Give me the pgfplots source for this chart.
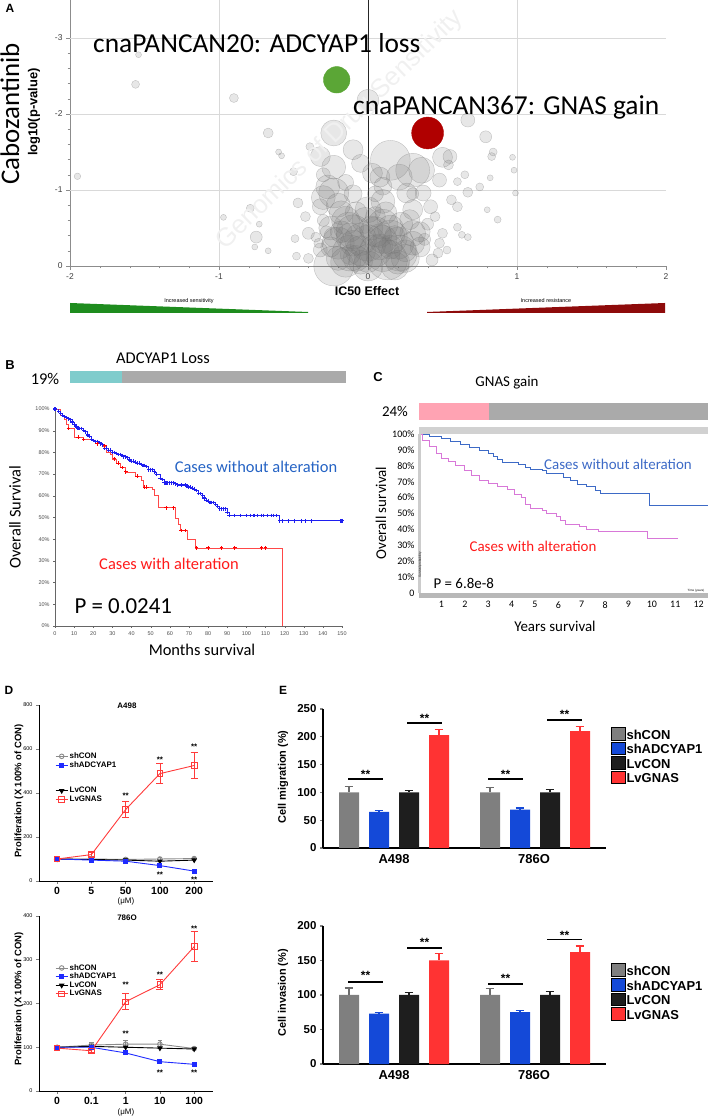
\documentclass[border=0pt]{standalone}
\usepackage{pgfplots}
\pgfplotsset{compat=1.18}
\usepackage{fontspec}
\setmainfont{Liberation Sans}
\newfontfamily\carl{Carlito}
\newcommand\fsz[1]{\fontsize{#1}{#1}\selectfont}

\definecolor{agreen}{HTML}{5BA636}
\definecolor{ared}{HTML}{B00000}
\definecolor{wgreen}{HTML}{1E8C1E}
\definecolor{wred}{HTML}{8E0B0B}
\definecolor{bteal}{HTML}{7FCCCC}
\definecolor{lgray}{HTML}{AAAAAA}
\definecolor{cpink}{HTML}{FFA3B3}
\definecolor{bblue}{HTML}{1E1EF0}
\definecolor{bred}{HTML}{FF4848}
\definecolor{tblue}{HTML}{2563C4}
\definecolor{tred}{HTML}{FF1A1A}
\definecolor{cblue}{HTML}{3D6AC6}
\definecolor{cpurp}{HTML}{D878D8}
\definecolor{dgray}{HTML}{8A8A8A}
\definecolor{dblue}{HTML}{1F2BFF}
\definecolor{dred}{HTML}{FF3B3B}
\definecolor{egray}{HTML}{7F7F7F}
\definecolor{eblue}{HTML}{1449D8}
\definecolor{eblack}{HTML}{1E1E1E}
\definecolor{ered}{HTML}{FF3333}

\pgfplotsset{every axis/.append style={scale only axis, anchor=south west,
  /pgf/number format/assume math mode=true}}
\tikzset{dstar/.style={font=\bfseries\fsz{8}, anchor=base, yshift=-4.6bp, inner sep=0pt},
  estar/.style={font=\bfseries\fsz{12}, anchor=base, yshift=-7bp, inner sep=0pt}}

\begin{document}
\begin{tikzpicture}
\path[use as bounding box] (0,0) rectangle (709bp,1116bp);

% ---------------- A: bubble plot
\begin{axis}[at={(70bp,850bp)}, width=596bp, height=266bp,
  xmin=-2, xmax=2, ymin=0, ymax=3.5,
  axis x line*=bottom, axis y line*=left,
  axis line style={black!45,-},
  xtick={-2,-1,0,1,2}, ytick={0,1,2,3}, yticklabels={0,-1,-2,-3},
  minor x tick num=4, minor y tick num=4,
  tick align=outside, tick style={black!45},
  major tick length=4bp, minor tick length=2.5bp,
  tick label style={font=\fsz{8.5}, text=black!75},
  clip=false]
\draw[black!15, line width=0.7bp] (axis cs:-2,1) -- (axis cs:2,1)
  (axis cs:-2,2) -- (axis cs:2,2) (axis cs:-2,3) -- (axis cs:2,3)
  (axis cs:-1,0) -- (axis cs:-1,3.5) (axis cs:1,0) -- (axis cs:1,3.5);
\addplot[scatter, only marks, mark=*,
  scatter/use mapped color={draw=black!55, fill=black!55, fill opacity=0.17, draw opacity=0.4},
  visualization depends on={\thisrow{r} \as \rr},
  scatter/@pre marker code/.append style={/tikz/mark size=\rr}]
  table {
x y r
-1.95 1.18 3.3
-1.54 2.78 3
-1.56 2.39 4
-0.90 2.21 4.5
-0.67 1.75 5
-0.60 1.50 3
-0.58 1.45 3
-0.97 0.64 3
-0.79 0.76 4
-0.75 0.38 6
-0.73 0.55 3
-0.76 0.25 3
-0.67 0.20 3
-0.49 0.36 4
-0.48 0.13 4
-0.40 0.43 6
-0.40 0.10 5
-0.47 0.83 5
-0.42 0.65 5
-0.50 1.24 4
-0.39 1.57 4
-0.23 1.75 13
-0.32 1.44 10
-0.27 1.04 12
-0.23 1.30 12
-0.23 0.96 15
-0.32 0.78 8
-0.13 0.51 15
0.00 0.74 13
-0.23 0.38 10
-0.12 0.17 18
-0.23 0.00 20
-0.32 0.21 7
-0.35 0.38 5
0.00 2.18 11
0.03 1.22 10
-0.10 1.53 10
0.15 1.39 20
0.30 1.26 17
0.36 1.26 13
0.50 1.43 10
0.55 1.44 7
0.54 1.33 5
0.67 1.92 7
0.79 1.70 6
0.84 1.50 4
0.83 1.44 4
0.97 1.43 3
0.98 1.26 3
0.99 0.96 3
0.82 1.16 3
0.75 1.04 4
0.65 1.20 4
0.60 1.11 4
0.67 0.97 5
0.56 0.87 5
0.60 0.78 5
0.80 0.74 3
0.87 0.61 3.5
0.67 0.38 3.5
0.63 0.41 3.5
0.60 0.51 4
0.50 0.43 5
0.48 0.30 5
0.53 0.21 4
0.47 0.17 5
0.43 0.08 6
0.26 0.96 10
0.37 0.96 8
0.42 0.78 7
0.30 0.74 10
0.21 1.17 13
0.48 1.13 7
0.08 1.17 10
0.15 0.38 17
0.21 0.17 18
0.13 0.08 20
0.30 0.43 13
0.35 0.25 10
0.28 0.61 10
-0.05 0.35 16
0.05 0.20 16
-0.15 0.60 14
0.10 0.55 15
0.00 0.10 14
-0.20 0.10 12
0.08 0.40 12
-0.10 0.30 13
0.02 0.50 12
-0.05 0.05 12
0.15 0.25 12
-0.25 0.25 10
0.20 0.05 12
-0.18 0.45 11
0.12 0.70 11
-0.08 0.70 11
0.25 0.20 11
0.05 0.65 10
-0.12 0.15 10
0.18 0.40 10
-0.30 0.60 6
-0.28 0.45 6
-0.33 0.30 5
0.40 0.55 6
0.45 0.65 5
0.38 0.35 6
0.30 0.95 6
-0.15 1.10 8
-0.05 1.35 9
0.10 1.05 9
-0.30 1.20 7
0.05 0.95 8
-0.10 0.95 9
-0.20 0.30 16
-0.10 0.45 17
0.00 0.30 18
0.10 0.15 17
0.20 0.30 16
-0.05 0.20 15
0.05 0.45 15
-0.15 0.05 15
0.25 0.10 14
0.10 0.35 14
-0.02 0.60 13
0.15 0.50 13
-0.25 0.50 12
0.30 0.30 12
0.00 0.00 15
0.18 0.00 14
-0.08 0.10 13
0.08 0.25 13
-0.18 0.70 12
0.22 0.55 12
-0.30 0.90 12
0.10 0.85 12
-0.20 0.80 12
0.35 0.45 10
-0.12 0.38 14
};
\draw[black!85, line width=0.6bp] (axis cs:0,0) -- (axis cs:0,3.5);
\addplot[only marks, mark=*, mark size=13.3, color=agreen] coordinates {(-0.21,2.45)};
\addplot[only marks, mark=*, mark size=16, color=ared] coordinates {(0.40,1.75)};
\end{axis}

% ---------------- B: Kaplan-Meier ADCYAP1
\begin{axis}[at={(55bp,490bp)}, width=287bp, height=217bp,
  xmin=0, xmax=150, ymin=0, ymax=100,
  axis x line*=bottom, axis y line*=left, axis line style={black!60,-},
  xtick={0,10,...,150}, ytick={0,10,...,100},
  yticklabel={\pgfmathprintnumber{\tick}\%},
  tick align=outside, major tick length=2bp, tick style={black!60},
  tick label style={font=\fsz{5.5}, text=black!70}]
\addplot[const plot, color=bblue, line width=0.7bp, mark=+, mark size=1.8,
  mark options={line width=1.1bp}] table {
0 100
2 99
3 98
4 97
5 96.5
6 96
7 95.5
8 95
9 94
10 93
11 92
12 91
13 91
14 91
15 90
16 89.5
17 88
18 87.5
19 86
20 85.5
21 85
22 85
23 84.5
24 84
25 83.5
26 82
27 82
28 81
29 81
30 80
31 80
32 79.5
33 79
34 79
35 78.5
36 78
37 78
38 77.5
39 76.5
40 76
41 76
42 75.5
43 75
44 75
45 74.5
46 74
47 74
48 73.5
49 72
50 72
51 72
52 71
53 70
55 68
56 67.5
57 66
58 66
59 66
60 66
61 66
62 66
63 65.5
64 65
66 65
68 65
69 64.5
70 64
71 64
72 63.5
73 63
74 62.5
75 61
76 61
77 60
78 59
79 58
80 57.5
81 57
82 57
83 57
84 56
85 55
86 54
87 54
88 54
89 54
90 52.5
91 51
94 51
97 51
100 51
102 51
104 51
106 51
108 51
109 51
111 51
113 51
114 51
116 51
117.5 48.5
119 48.5
122 48.5
125 48.5
129 48.5
131 48.5
134 48.5
149 48.5
150 48.5
};
\addplot[const plot, color=bred, line width=0.7bp] table {
0 100
3 97
5 95
6 93
7 91
10 87
15 86
20 85
22 84
25 83
27 80
29 79
30 77
32 75
34 73
37 71
42 69
45 67
46 64
51 63
52 60
54 54.5
62 54.5
63 49.5
64.5 47
65.5 44
68 44
69 40
73.5 36
119 36
119 0
};
\addplot[only marks, mark=+, mark size=1.8, color=red, mark options={line width=0.9bp}] coordinates {
(7,91) (12,87) (15,86) (22,84) (26,83) (31,77) (33,75) (35,73) (37,71) (43,69)
(47,64) (48,64) (58,54.5) (62,54.5) (66,44) (68,44) (74,36) (80,36) (87,36)
(94,36) (108,36) (110,36)};
\end{axis}

% ---------------- C: Kaplan-Meier GNAS
\begin{axis}[at={(418bp,523bp)}, width=290bp, height=159bp,
  xmin=0, xmax=12.4, ymin=0, ymax=100,
  axis line style={draw=none}, major tick length=0,
  xtick={1,...,12}, ytick={0,10,...,100},
  yticklabels={0,10\%,20\%,30\%,40\%,50\%,60\%,70\%,80\%,90\%,100\%},
  tick label style={font=\carl\fsz{10}},
  xticklabel style={yshift=-5bp}, clip=false]
\addplot[const plot, color=cblue, line width=0.6bp] table {
0 100
0.5 98.5
1 97
1.4 95.5
1.8 93.5
2.2 91.5
2.6 89.5
3 88
3.2 86
3.4 84
3.6 82
4.3 81
4.6 79
4.8 78
5.3 77
5.5 75.5
6 75
6.2 73
6.5 71
6.8 68.5
7.2 67
7.6 64.5
7.8 62.5
9.8 62.5
9.9 55
12.4 55
};
\addplot[const plot, color=cpurp, line width=0.6bp] table {
0 100
0.2 96
0.5 92
0.8 88
1 85
1.3 83
1.6 80
2 77
2.3 74
2.6 71
3 69
3.4 67
3.8 65
4.1 62
4.4 60
4.6 56
4.8 53
5.3 52
5.5 50
5.9 48
6.1 46
6.3 43
6.9 42
7.2 40
7.7 38.5
9.7 38.5
9.8 34.5
11.1 34.5
};
\end{axis}

% ---------------- D top: A498 proliferation
\begin{axis}[at={(39bp,235bp)}, width=174bp, height=176bp,
  xmin=-0.53, xmax=4.55, ymin=0, ymax=800,
  axis x line*=bottom, axis y line*=left, axis line style={-, line width=0.8bp},
  xtick={0,...,4}, xticklabels={0,5,50,100,200}, ytick={0,200,...,800},
  tick align=outside, major tick length=3bp, tick style={line width=0.8bp},
  xticklabel style={font=\bfseries\fsz{10.5}},
  yticklabel style={font=\fsz{5.5}},
  legend style={draw=none, fill=none, font=\bfseries\fsz{8}, at={(0.075,0.75)},
    anchor=north west, row sep=-1.5bp, nodes={inner sep=1.5bp}},
  legend cell align=left,
  legend image code/.code={\draw[mark repeat=2,mark phase=2,#1] plot coordinates {(0bp,0bp) (6bp,0bp) (12bp,0bp)};},
  clip=false]
\addplot[forget plot, color=dgray, line width=0.9bp, mark=o, mark size=2.3,
  error bars/.cd, y dir=both, y explicit]
  coordinates {(0,100)+-(0,4) (1,100)+-(0,4) (2,98)+-(0,5) (3,100)+-(0,6) (4,102)+-(0,6)};
\addplot[forget plot, color=black, line width=0.9bp, mark=triangle*, mark size=2.4, mark options={rotate=180}]
  coordinates {(0,100) (1,98) (2,95) (3,90) (4,95)};
\addplot[forget plot, color=dblue, line width=0.9bp, mark=square*, mark size=2]
  coordinates {(0,100) (1,95) (2,90) (3,70) (4,45)};
\addplot[forget plot, color=dred, line width=0.9bp, mark=square, mark size=2.8,
  error bars/.cd, y dir=both, y explicit, error mark options={rotate=90, mark size=3.5, line width=0.9bp}]
  coordinates {(0,100)+-(0,0) (1,120)+-(0,8) (2,325)+-(0,35) (3,488)+-(0,45) (4,525)+-(0,60)};
\addlegendimage{color=dgray, line width=0.9bp, mark=o, mark size=2.3}
\addlegendentry{shCON}
\addlegendimage{color=dblue, line width=0.9bp, mark=square*, mark size=2}
\addlegendentry{shADCYAP1}
\addlegendimage{empty legend}
\addlegendentry{\rule{0pt}{14bp}}
\addlegendimage{color=black, line width=0.9bp, mark=triangle*, mark size=2.4, mark options={rotate=180}}
\addlegendentry{LvCON}
\addlegendimage{color=dred, line width=0.9bp, mark=square, mark size=2.8}
\addlegendentry{LvGNAS}
\node[dstar] at (axis cs:2,395) {**};
\node[dstar] at (axis cs:3,559) {**};
\node[dstar] at (axis cs:4,618) {**};
\node[dstar] at (axis cs:3,36) {**};
\node[dstar] at (axis cs:4,14) {**};
\end{axis}

% ---------------- D bottom: 786O proliferation
\begin{axis}[at={(39bp,25bp)}, width=174bp, height=175bp,
  xmin=-0.53, xmax=4.55, ymin=0, ymax=400,
  axis x line*=bottom, axis y line*=left, axis line style={-, line width=0.8bp},
  xtick={0,...,4}, xticklabels={0,0.1,1,10,100}, ytick={0,100,...,400},
  tick align=outside, major tick length=3bp, tick style={line width=0.8bp},
  xticklabel style={font=\bfseries\fsz{10.5}},
  yticklabel style={font=\fsz{5.5}},
  legend style={draw=none, fill=none, font=\bfseries\fsz{8}, at={(0.075,0.745)},
    anchor=north west, row sep=-1.5bp, nodes={inner sep=1.5bp}},
  legend cell align=left,
  legend image code/.code={\draw[mark repeat=2,mark phase=2,#1] plot coordinates {(0bp,0bp) (6bp,0bp) (12bp,0bp)};},
  clip=false]
\addplot[forget plot, color=dgray, line width=0.9bp, mark=o, mark size=2.3,
  error bars/.cd, y dir=both, y explicit]
  coordinates {(0,100)+-(0,3) (1,105)+-(0,6) (2,107)+-(0,8) (3,107)+-(0,10) (4,97)+-(0,3)};
\addplot[forget plot, color=black, line width=0.9bp, mark=triangle*, mark size=2.4, mark options={rotate=180}]
  coordinates {(0,100) (1,102) (2,100) (3,98) (4,96)};
\addplot[forget plot, color=dblue, line width=0.9bp, mark=square*, mark size=2]
  coordinates {(0,100) (1,100) (2,87) (3,67) (4,61)};
\addplot[forget plot, color=dred, line width=0.9bp, mark=square, mark size=2.8,
  error bars/.cd, y dir=both, y explicit, error mark options={rotate=90, mark size=3.5, line width=0.9bp}]
  coordinates {(0,98)+-(0,0) (1,92)+-(0,5) (2,204)+-(0,18) (3,243)+-(0,12) (4,330)+-(0,35)};
\addlegendimage{color=dgray, line width=0.9bp, mark=o, mark size=2.3}
\addlegendentry{shCON}
\addlegendimage{color=dblue, line width=0.9bp, mark=square*, mark size=2}
\addlegendentry{shADCYAP1}
\addlegendimage{color=black, line width=0.9bp, mark=triangle*, mark size=2.4, mark options={rotate=180}}
\addlegendentry{LvCON}
\addlegendimage{color=dred, line width=0.9bp, mark=square, mark size=2.8}
\addlegendentry{LvGNAS}
\node[dstar] at (axis cs:2,247) {**};
\node[dstar] at (axis cs:3,270) {**};
\node[dstar] at (axis cs:4,375) {**};
\node[dstar] at (axis cs:2,135) {**};
\node[dstar] at (axis cs:3,46) {**};
\node[dstar] at (axis cs:4,46) {**};
\end{axis}

% ---------------- E top: migration
\begin{axis}[at={(323bp,268bp)}, width=283bp, height=139bp,
  xmin=323, xmax=606, ymin=0, ymax=250,
  axis x line*=bottom, axis y line*=left, axis line style={-, line width=1.3bp},
  xtick={394,534}, xticklabels={A498,786O}, ytick={0,50,...,250},
  x tick style={draw=none}, y tick style={line width=1.3bp},
  tick align=outside, major tick length=3bp,
  yticklabel style={font=\bfseries\fsz{11.5}},
  xticklabel style={font=\bfseries\fsz{13}},
  legend style={draw=none, fill=none, font=\bfseries\fsz{13}, at={(1.007,0.885)},
    anchor=north west, row sep=0bp, nodes={inner sep=1bp}},
  legend cell align=left,
  legend image code/.code={\fill[#1] (0bp,-4.5bp) rectangle (14bp,8bp);},
  clip=false]
\addplot[forget plot, ybar, bar width=20, bar shift=0pt, fill=egray, draw=none,
  error bars/.cd, y dir=plus, y explicit, error bar style={line width=1.2bp, color=egray!85!black},
  error mark options={rotate=90, mark size=4.5, line width=1.2bp, color=egray!85!black}]
  coordinates {(349,100)+-(0,10) (490,100)+-(0,9)};
\addplot[forget plot, ybar, bar width=20, bar shift=0pt, fill=eblue, draw=none,
  error bars/.cd, y dir=plus, y explicit, error bar style={line width=1.2bp, color=eblue},
  error mark options={rotate=90, mark size=4.5, line width=1.2bp, color=eblue}]
  coordinates {(379,65)+-(0,2) (520,69)+-(0,3)};
\addplot[forget plot, ybar, bar width=20, bar shift=0pt, fill=eblack, draw=none,
  error bars/.cd, y dir=plus, y explicit, error bar style={line width=1.2bp, color=eblack},
  error mark options={rotate=90, mark size=4.5, line width=1.2bp, color=eblack}]
  coordinates {(409,100)+-(0,4) (550,100)+-(0,5)};
\addplot[forget plot, ybar, bar width=20, bar shift=0pt, fill=ered, draw=none,
  error bars/.cd, y dir=plus, y explicit, error bar style={line width=1.2bp, color=ered},
  error mark options={rotate=90, mark size=4.5, line width=1.2bp, color=ered}]
  coordinates {(439,203)+-(0,10) (580,210)+-(0,9)};
\addlegendimage{fill=egray}\addlegendentry{shCON}
\addlegendimage{fill=eblue}\addlegendentry{shADCYAP1}
\addlegendimage{fill=eblack}\addlegendentry{LvCON}
\addlegendimage{fill=ered}\addlegendentry{LvGNAS}
\draw[line width=1.3bp] (axis cs:348,124) -- (axis cs:383,124)
  (axis cs:407,225) -- (axis cs:442,225) (axis cs:488,124) -- (axis cs:523,124)
  (axis cs:547,230) -- (axis cs:582,230);
\node[estar] at (axis cs:365.5,137) {**};
\node[estar] at (axis cs:424.5,239) {**};
\node[estar] at (axis cs:505.5,137) {**};
\node[estar] at (axis cs:564.5,245) {**};
\end{axis}

% ---------------- E bottom: invasion
\begin{axis}[at={(323bp,52bp)}, width=283bp, height=138bp,
  xmin=323, xmax=606, ymin=0, ymax=200,
  axis x line*=bottom, axis y line*=left, axis line style={-, line width=1.3bp},
  xtick={394,534}, xticklabels={A498,786O}, ytick={0,50,...,200},
  x tick style={draw=none}, y tick style={line width=1.3bp},
  tick align=outside, major tick length=3bp,
  yticklabel style={font=\bfseries\fsz{11.5}},
  xticklabel style={font=\bfseries\fsz{13}},
  legend style={draw=none, fill=none, font=\bfseries\fsz{13}, at={(1.007,0.745)},
    anchor=north west, row sep=0bp, nodes={inner sep=1bp}},
  legend cell align=left,
  legend image code/.code={\fill[#1] (0bp,-4.5bp) rectangle (14bp,8bp);},
  clip=false]
\addplot[forget plot, ybar, bar width=20, bar shift=0pt, fill=egray, draw=none,
  error bars/.cd, y dir=plus, y explicit, error bar style={line width=1.2bp, color=egray!85!black},
  error mark options={rotate=90, mark size=4.5, line width=1.2bp, color=egray!85!black}]
  coordinates {(349,100)+-(0,10) (490,100)+-(0,9)};
\addplot[forget plot, ybar, bar width=20, bar shift=0pt, fill=eblue, draw=none,
  error bars/.cd, y dir=plus, y explicit, error bar style={line width=1.2bp, color=eblue},
  error mark options={rotate=90, mark size=4.5, line width=1.2bp, color=eblue}]
  coordinates {(379,73)+-(0,2) (520,75)+-(0,3)};
\addplot[forget plot, ybar, bar width=20, bar shift=0pt, fill=eblack, draw=none,
  error bars/.cd, y dir=plus, y explicit, error bar style={line width=1.2bp, color=eblack},
  error mark options={rotate=90, mark size=4.5, line width=1.2bp, color=eblack}]
  coordinates {(409,100)+-(0,4) (550,100)+-(0,5)};
\addplot[forget plot, ybar, bar width=20, bar shift=0pt, fill=ered, draw=none,
  error bars/.cd, y dir=plus, y explicit, error bar style={line width=1.2bp, color=ered},
  error mark options={rotate=90, mark size=4.5, line width=1.2bp, color=ered}]
  coordinates {(439,150)+-(0,10) (580,162)+-(0,9)};
\addlegendimage{fill=egray}\addlegendentry{shCON}
\addlegendimage{fill=eblue}\addlegendentry{shADCYAP1}
\addlegendimage{fill=eblack}\addlegendentry{LvCON}
\addlegendimage{fill=ered}\addlegendentry{LvGNAS}
\draw[line width=1.3bp] (axis cs:348,119) -- (axis cs:383,119)
  (axis cs:407,168) -- (axis cs:442,168) (axis cs:488,116) -- (axis cs:523,116)
  (axis cs:547,180) -- (axis cs:582,180);
\node[estar] at (axis cs:365.5,132) {**};
\node[estar] at (axis cs:424.5,180) {**};
\node[estar] at (axis cs:505.5,128) {**};
\node[estar] at (axis cs:564.5,190) {**};
\end{axis}

% ---------------- texts and decorations (pixel coordinates, y downward)
\begin{scope}[x=1bp, y=-1bp, shift={(0bp,1116bp)}]
% A
\node[font=\bfseries\fsz{12}] at (10,8) {A};
\node[font=\fsz{26}, text=black!6, rotate=44] at (340,130) {Genomics of Drug Sensitivity};
\node[font=\carl\fsz{27.5}, anchor=base west, inner sep=0pt] at (93,53) {cnaPANCAN20: ADCYAP1 loss};
\node[font=\carl\fsz{27.5}, anchor=base west, inner sep=0pt] at (353,115) {cnaPANCAN367: GNAS gain};
\node[font=\carl\fsz{27}, rotate=90] at (10,114) {Cabozantinib};
\node[font=\bfseries\fsz{13}, rotate=90] at (34,112) {log10(p-value)};
\node[font=\bfseries\fsz{12.5}] at (367,291) {IC50 Effect};
\fill[wgreen] (70,303) -- (308,312) -- (308,313) -- (70,313) -- cycle;
\fill[wred] (427,312) -- (665,303) -- (665,313) -- (427,313) -- cycle;
\node[font=\fsz{5.5}] at (189,301) {Increased sensitivity};
\node[font=\fsz{5.5}] at (546,301) {Increased resistance};
% B
\node[font=\bfseries\fsz{13}] at (10,365) {B};
\node[font=\carl\fsz{16.5}] at (163,358) {ADCYAP1 Loss};
\node[font=\carl\fsz{16.5}] at (45,379) {19\%};
\fill[bteal] (70,371) rectangle (122,383);
\fill[lgray] (122,371) rectangle (346,383);
\node[font=\carl\fsz{16.5}, rotate=90] at (15,517) {Overall Survival};
\node[font=\carl\fsz{16.5}] at (202,650) {Months survival};
\node[font=\carl\fsz{23}, anchor=west] at (71,606) {P = 0.0241};
\node[font=\carl\fsz{16.5}, text=tblue] at (256,467) {Cases without alteration};
\node[font=\carl\fsz{16.5}, text=tred] at (169,564) {Cases with alteration};
% C
\node[font=\bfseries\fsz{13}] at (378,377) {C};
\node[font=\carl\fsz{15}] at (507,383) {GNAS gain};
\node[font=\carl\fsz{15}] at (395,411) {24\%};
\fill[cpink] (419,403) rectangle (489,420);
\fill[lgray] (489,403) rectangle (708,420);
\fill[black!18] (419,427) rectangle (708,434);
\fill[black!28] (419,593) rectangle (708,598);
\fill[black!20] (418,434) rectangle (421,593);
\node[font=\fsz{3}, rotate=90] at (420,565) {Survival probability};
\node[font=\fsz{3}] at (696,591) {Time (years)};
\node[font=\carl\fsz{15}, rotate=90] at (381,513) {Overall survival};
\node[font=\carl\fsz{15}] at (555,626) {Years survival};
\node[font=\carl\fsz{15}, text=cblue] at (618,464) {Cases without alteration};
\node[font=\carl\fsz{15}, text=tred] at (533,546) {Cases with alteration};
\node[font=\carl\fsz{15}, anchor=west] at (430,583) {P = 6.8e-8};
% D
\node[font=\bfseries\fsz{12}] at (9,690) {D};
\node[font=\bfseries\fsz{8}] at (127,706) {A498};
\node[font=\bfseries\fsz{9.5}, rotate=90] at (19,791) {Proliferation (X 100\% of CON)};
\node[font=\fsz{8}] at (126,901) {(μM)};
\node[font=\bfseries\fsz{8}] at (127,918) {786O};
\node[font=\bfseries\fsz{9.5}, rotate=90] at (19,999) {Proliferation (X 100\% of CON)};
\node[font=\fsz{8}] at (126,1112) {(μM)};
% E
\node[font=\bfseries\fsz{12}] at (283,690) {E};
\node[font=\bfseries\fsz{11}, rotate=90] at (283,777) {Cell migration (\%)};
\node[font=\bfseries\fsz{11}, rotate=90] at (283,993) {Cell invasion (\%)};
\end{scope}
\end{tikzpicture}
\end{document}
